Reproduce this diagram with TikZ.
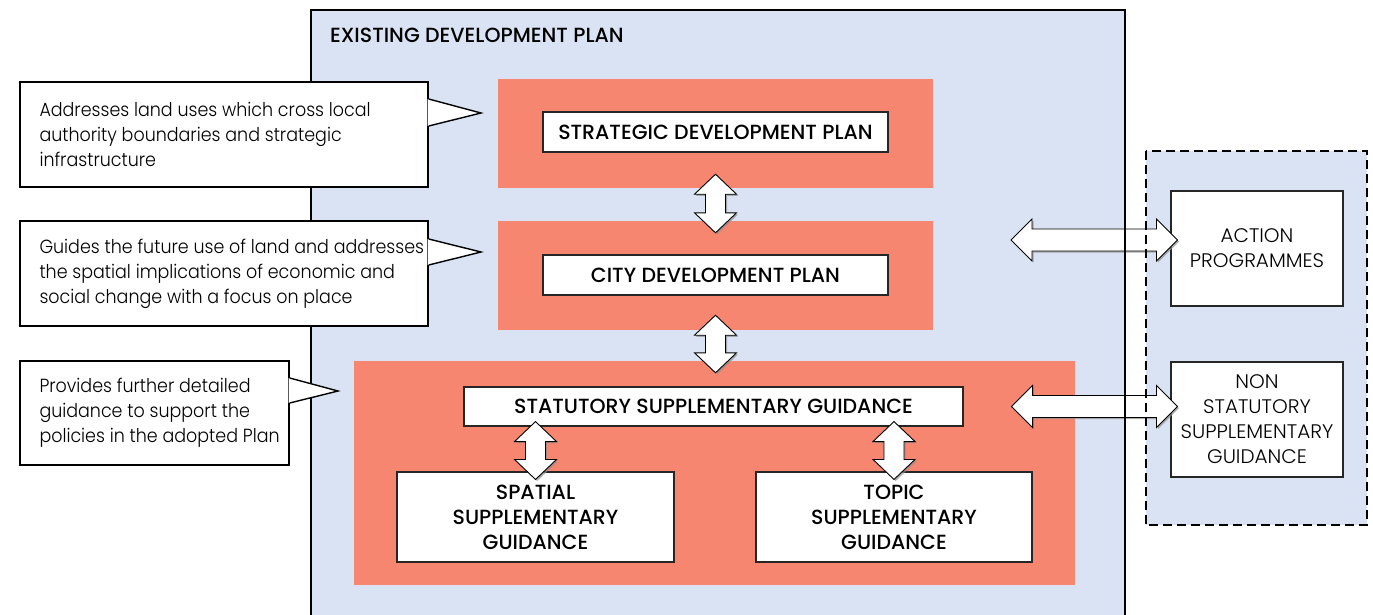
\documentclass[tikz,border=0pt]{standalone}
\usepackage{fontspec}
\setmainfont{Poppins}
\newfontfamily\bodyfont{Poppins Light}[FakeStretch=0.92]
\newfontfamily\capfont{Poppins Light}[FakeStretch=1.02]
\newfontfamily\medfont{Poppins Medium}
\usetikzlibrary{calc,shadows}
\definecolor{planblue}{RGB}{218,227,243}
\definecolor{salmon}{RGB}{247,134,113}
\newcommand\dblarrowV[2]{%
  \draw[barrow] (#1) -- ($(#1)+(21,20)$) -- ($(#1)+(10,20)$) -- ($(#2)+(10,-20)$) -- ($(#2)+(21,-20)$) -- (#2)
    -- ($(#2)+(-21,-20)$) -- ($(#2)+(-10,-20)$) -- ($(#1)+(-10,20)$) -- ($(#1)+(-21,20)$) -- cycle;}
\newcommand\dblarrowH[2]{%
  \draw[barrow] (#1) -- ($(#1)+(21,-21)$) -- ($(#1)+(21,-11)$) -- ($(#2)+(-21,-11)$) -- ($(#2)+(-21,-21)$) -- (#2)
    -- ($(#2)+(-21,21)$) -- ($(#2)+(-21,11)$) -- ($(#1)+(21,11)$) -- ($(#1)+(21,21)$) -- cycle;}
\begin{document}
\begin{tikzpicture}[x=1pt,y=-1pt,
  framefill/.style={fill=planblue, draw=none, inner sep=0pt},
  frameline/.style={draw=black, line width=2pt},
  dashline/.style={draw=black, line width=2.2pt, dash pattern=on 9pt off 5pt},
  salmonbox/.style={fill=salmon, draw=none, inner sep=0pt},
  whitebox/.style={fill=white, draw=black!85, line width=1.1pt, inner sep=0pt, align=center,
    font=\fontsize{20.5}{25}\medfont},
  sidebox/.style={fill=white, draw=black!85, line width=1.1pt, inner sep=0pt, align=center,
    font=\fontsize{19.6}{25}\capfont},
  calloutbox/.style={fill=white, draw=black, line width=1.4pt, inner sep=0pt},
  callouttext/.style={anchor=west, align=left, inner sep=0pt, font=\fontsize{19}{25}\bodyfont},
  titletext/.style={anchor=west, inner sep=0pt, font=\fontsize{20.5}{24}\medfont},
  barrow/.style={draw=black, fill=white, line width=0.9pt, line join=miter,
    drop shadow={shadow xshift=1.6pt, shadow yshift=-1.6pt, fill=black!45, opacity=0.7}}
]
\useasboundingbox (0,0) rectangle (1373,614);
\fill[white] (0,0) rectangle (1373,614);
% main frame
\node[framefill, minimum width=814, minimum height=640, anchor=north west] (frame) at (311,10) {};
\draw[frameline] (frame.south west) -- (frame.north west) -- (frame.north east) -- (frame.south east);
\node[titletext] (title) at (330,35) {EXISTING DEVELOPMENT PLAN};
% dashed side frame (fill only; border drawn last)
\node[framefill, minimum width=221, minimum height=374] (dash) at (1256.5,338) {};
% salmon boxes
\node[salmonbox, minimum width=435, minimum height=109] (s1) at (715.5,133.5) {};
\node[salmonbox, minimum width=435, minimum height=109] (s2) at (715.5,275.5) {};
\node[salmonbox, minimum width=721, minimum height=224] (s3) at (714.5,473) {};
% white boxes
\node[whitebox, minimum width=345, minimum height=40] (sdp) at (715.5,132) {STRATEGIC DEVELOPMENT PLAN};
\node[whitebox, minimum width=345, minimum height=40] (cdp) at (715.5,275) {CITY DEVELOPMENT PLAN};
\node[whitebox, minimum width=499, minimum height=39] (ssg) at (713.5,406.5) {STATUTORY SUPPLEMENTARY GUIDANCE};
\node[whitebox, minimum width=277, minimum height=90] (sp) at (535.5,517) {SPATIAL\\SUPPLEMENTARY\\GUIDANCE};
\node[whitebox, minimum width=276, minimum height=90] (tp) at (894,517) {TOPIC\\SUPPLEMENTARY\\GUIDANCE};
\node[sidebox, minimum width=172, minimum height=115] (act) at (1257,248.5) {ACTION\\PROGRAMMES};
\node[sidebox, minimum width=172, minimum height=115] (nssg) at (1257,419.5) {NON\\STATUTORY\\SUPPLEMENTARY\\GUIDANCE};
% callouts
\node[calloutbox, minimum width=408, minimum height=105] (c1) at (224,134.5) {};
\node[calloutbox, minimum width=408, minimum height=105] (c2) at (224,273.5) {};
\node[calloutbox, minimum width=269, minimum height=104] (c3) at (154.5,413) {};
\coordinate (p1) at (481,113);
\coordinate (p2) at (481,252);
\coordinate (p3) at (338,391);
\fill[white] ($(c1.east |- 0,99)+(-1.2,0)$) -- (p1) -- ($(c1.east |- 0,126)+(-1.2,0)$) -- cycle;
\draw[black, line width=1.4pt] (c1.east |- 0,99) -- (p1) -- (c1.east |- 0,126);
\fill[white] ($(c2.east |- 0,239)+(-1.2,0)$) -- (p2) -- ($(c2.east |- 0,265)+(-1.2,0)$) -- cycle;
\draw[black, line width=1.4pt] (c2.east |- 0,239) -- (p2) -- (c2.east |- 0,265);
\fill[white] ($(c3.east |- 0,378)+(-1.2,0)$) -- (p3) -- ($(c3.east |- 0,403)+(-1.2,0)$) -- cycle;
\draw[black, line width=1.4pt] (c3.east |- 0,378) -- (p3) -- (c3.east |- 0,403);
\node[callouttext] (t1) at ($(c1.west)+(20,0)$) {Addresses land uses which cross local\\authority boundaries and strategic\\infrastructure};
\node[callouttext] (t2) at ($(c2.west)+(20,0)$) {Guides the future use of land and addresses\\the spatial implications of economic and\\social change with a focus on place};
\node[callouttext] (t3) at ($(c3.west)+(20,0)$) {Provides further detailed\\guidance to support the\\policies in the adopted Plan};
% arrows
\path (s1.south) ++(0,-14) coordinate (v1a);
\path (s2.north) ++(0,12) coordinate (v1b);
\path (s2.south) ++(0,-15) coordinate (v2a);
\path (s2.south |- s3.north) ++(0,12) coordinate (v2b);
\path (sp.north |- ssg.south) ++(0,-5) coordinate (v3a);
\path (sp.north) ++(0,8) coordinate (v3b);
\path (tp.north |- ssg.south) ++(0,-5) coordinate (v4a);
\path (tp.north) ++(0,8) coordinate (v4b);
\coordinate (h1a) at (1011,240);
\path (act.west |- h1a) ++(7,0) coordinate (h1b);
\path (ssg.east) ++(48,0) coordinate (h2a);
\path (nssg.west |- h2a) ++(7,0) coordinate (h2b);
\dblarrowV{v1a}{v1b}
\dblarrowV{v2a}{v2b}
\dblarrowV{v3a}{v3b}
\dblarrowV{v4a}{v4b}
\dblarrowH{h1a}{h1b}
\dblarrowH{h2a}{h2b}
% borders over the arrows
\draw[frameline] (frame.north east) -- (frame.south east);
\draw[dashline] (dash.north west) rectangle (dash.south east);
\end{tikzpicture}
\end{document}
